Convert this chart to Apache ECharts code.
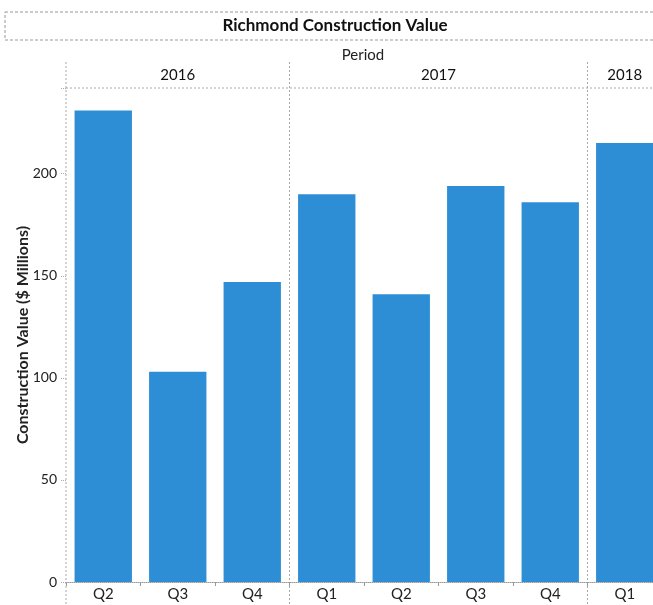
<!DOCTYPE html>
<html>
<head>
<meta charset="utf-8">
<script src="https://cdn.jsdelivr.net/npm/echarts@6/dist/echarts.min.js"></script>
<style>
  html, body { margin: 0; padding: 0; overflow: hidden; background: #fff; }
  #main { width: 662px; height: 605px; }
</style>
</head>
<body>
<div id="main"></div>
<script>
// quarters along the x axis, grouped by year
const quarters = ['Q2', 'Q3', 'Q4', 'Q1', 'Q2', 'Q3', 'Q4', 'Q1'];
const years = ['2016', '2017', '2018'];
const quartersPerYear = [3, 4, 1];
// construction value, $ millions
const values = [231, 103, 147, 190, 141, 194, 186, 215];
const yTicks = [0, 50, 100, 150, 200];

const FONT = 'Lato';
const GRID_TOP = 88;
const HEADER_TOP = 62;

// unique keys so repeated quarter names stay separate categories
const keys = quarters.map((q, i) => i + '_' + q);

let myChart = echarts.init(document.getElementById('main'));
let option = {
    animation: false,
    textStyle: { fontFamily: FONT },
    grid: { left: 66, right: 0, top: GRID_TOP, bottom: 23, outerBoundsMode: 'none' },
    xAxis: {
        type: 'category',
        data: keys,
        axisLine: { lineStyle: { color: '#9a9a9a', type: 'dotted' } },
        axisTick: { show: true, length: 4, lineStyle: { color: '#9a9a9a' } },
        axisLabel: {
            color: '#222', fontSize: 15, margin: 5,
            formatter: v => v.split('_')[1]
        }
    },
    yAxis: {
        type: 'value',
        min: 0,
        max: 242,
        interval: 50,
        name: 'Construction Value ($ Millions)',
        nameLocation: 'middle',
        nameRotate: 90,
        nameGap: 35,
        nameMoveOverlap: false,
        nameTextStyle: { fontSize: 16, fontWeight: 'bold', color: '#222' },
        axisLine: { show: false },
        axisTick: { show: true, length: 5, lineStyle: { color: '#aaa', type: 'dotted' } },
        axisLabel: {
            color: '#222', fontSize: 14, margin: 9,
            formatter: v => yTicks.indexOf(v) >= 0 ? v : ''
        },
        splitLine: { show: false }
    },
    series: [{
        type: 'bar',
        data: values,
        barCategoryGap: '23%',
        itemStyle: { color: '#2e8ed5' }
    }]
};
myChart.setOption(option);

// header row, title box and year separators placed from the axis scale
function drawFrame() {
    const c0 = myChart.convertToPixel({ xAxisIndex: 0 }, 0);
    const c1 = myChart.convertToPixel({ xAxisIndex: 0 }, 1);
    const band = c1 - c0;
    const left = c0 - band / 2;
    const right = left + band * quarters.length;
    const dotted = { stroke: '#a8a8a8', lineWidth: 1, lineDash: [2, 2] };
    const els = [];

    // title box
    els.push({
        type: 'rect', shape: { x: 5, y: 12, width: 700, height: 28 },
        style: { fill: 'none', stroke: '#999', lineWidth: 1, lineDash: [3, 2] }
    });
    els.push({
        type: 'text', x: 335, y: 26,
        style: {
            text: 'Richmond Construction Value', fontFamily: FONT, fontSize: 17,
            fontWeight: 'bold', fill: '#111', align: 'center', verticalAlign: 'middle'
        }
    });
    els.push({
        type: 'text', x: 363, y: 55,
        style: {
            text: 'Period', fontFamily: FONT, fontSize: 15, fill: '#222',
            align: 'center', verticalAlign: 'middle'
        }
    });
    // header bottom line
    els.push({
        type: 'line', shape: { x1: left, y1: GRID_TOP, x2: right, y2: GRID_TOP }, style: dotted
    });
    // year labels and separators
    let start = 0;
    years.forEach((y, i) => {
        const x0 = left + band * start;
        const x1 = x0 + band * quartersPerYear[i];
        els.push({
            type: 'line', shape: { x1: x0, y1: HEADER_TOP, x2: x0, y2: 605 }, style: dotted
        });
        els.push({
            type: 'text', x: (x0 + x1) / 2, y: 75,
            style: {
                text: y, fontFamily: FONT, fontSize: 15, fill: '#111',
                align: 'center', verticalAlign: 'middle'
            }
        });
        start += quartersPerYear[i];
    });
    myChart.setOption({ graphic: { elements: els } });
}
drawFrame();
</script>
</body>
</html>
